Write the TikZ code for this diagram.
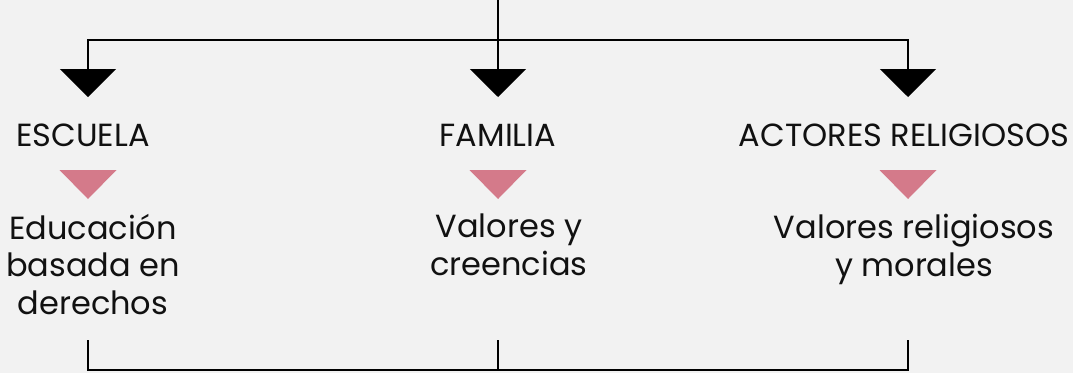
\documentclass[tikz,border=0pt]{standalone}
\usepackage{fontspec}
\setmainfont{Poppins}
\usetikzlibrary{arrows.meta}
\definecolor{bgcol}{HTML}{F2F2F2}
\definecolor{pinkcol}{HTML}{D47A8A}
\definecolor{inkcol}{HTML}{111111}
\tikzset{
  conn/.style={draw=black, line width=2pt, line join=miter},
  tipconn/.style={conn, -{Triangle[width=56pt,length=28pt]}},
  head/.style={text=inkcol, font=\fontsize{32}{37.5}\selectfont, inner sep=0pt, anchor=base},
  body/.style={text=inkcol, font=\fontsize{32}{37.5}\selectfont, inner sep=0pt, align=center, anchor=north},
  pinktri/.style={fill=pinkcol}
}
\begin{document}
\begin{tikzpicture}[x=1pt,y=1pt]
\fill[bgcol] (0,0) rectangle (1073,-373);
\useasboundingbox (0,0) rectangle (1073,-373);
% coordinates
\coordinate (top) at (498,0);
\coordinate (hub) at (498,-40);
\coordinate (a1) at (88,-97);
\coordinate (a2) at (498,-97);
\coordinate (a3) at (908,-97);
% headings
\node[head] (h1) at (83,-146) {ESCUELA};
\node[head] (h2) at (498,-146) {FAMILIA};
\node[head] (h3) at (904,-146) {ACTORES RELIGIOSOS};
% pink triangles
\foreach \x in {88,498,908}{
  \fill[pinktri] (\x-28.5,-170) -- (\x+28.5,-170) -- (\x,-199) -- cycle;
}
% body texts
\node[body] (t1) at (93,-214) {Educación\\basada en\\derechos};
\node[body] (t2) at (509,-214) {Valores y\\creencias};
\node[body] (t3) at (914,-214) {Valores religiosos\\y morales};
% top connectors
\draw[conn] (top) -- (hub);
\draw[tipconn] (hub) -| (a1);
\draw[tipconn] (hub) -- (a2);
\draw[tipconn] (hub) -| (a3);
% bottom bracket
\coordinate (b1) at (88,-340);
\coordinate (b2) at (498,-340);
\coordinate (b3) at (908,-340);
\coordinate (c1) at (88,-370);
\coordinate (c2) at (498,-370);
\coordinate (c3) at (908,-370);
\draw[conn] (b1) -- (c1) -- (c3) -- (b3);
\draw[conn] (b2) -- (c2);
\end{tikzpicture}
\end{document}
